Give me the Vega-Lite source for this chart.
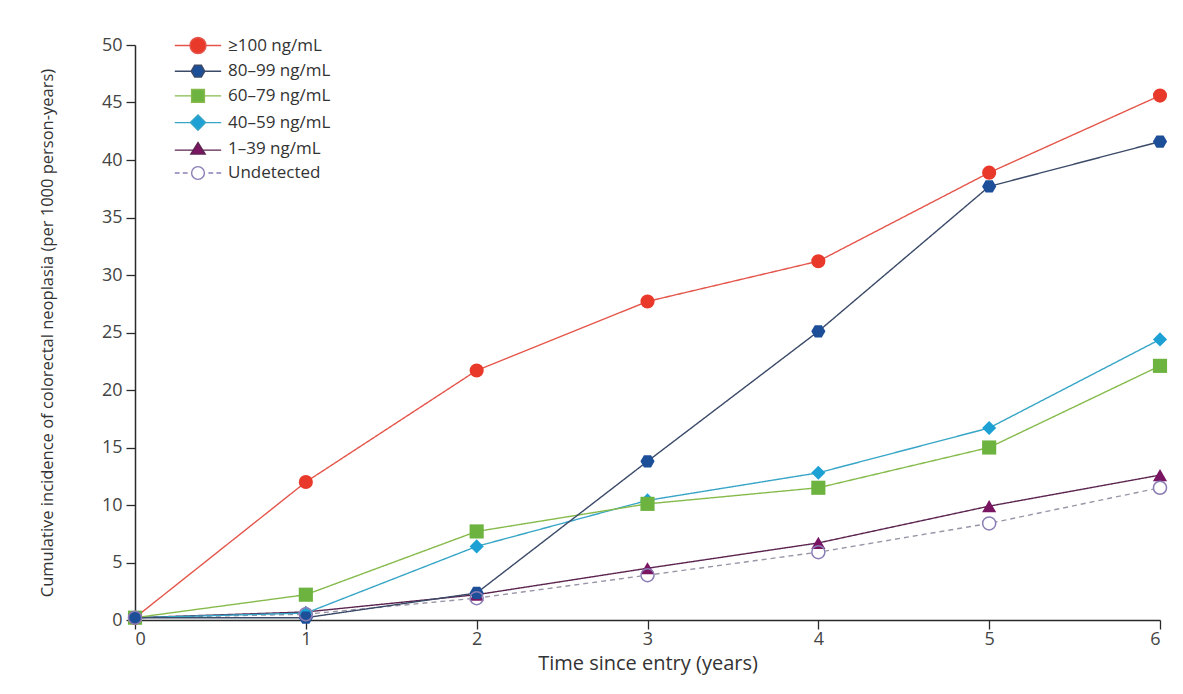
{
  "$schema": "https://vega.github.io/schema/vega-lite/v6.json",
  "width": 1025,
  "height": 575,
  "autosize": {"type": "none"},
  "padding": {"left": 135, "top": 45, "right": 23, "bottom": 74},
  "background": "#ffffff",
  "config": {
    "view": {"stroke": null},
    "font": "Open Sans",
    "axis": {
      "labelFont": "Open Sans",
      "titleFont": "Open Sans",
      "labelColor": "#444444",
      "titleColor": "#333333",
      "domainColor": "#2a2a2a",
      "tickColor": "#2a2a2a",
      "domainWidth": 1.5,
      "tickWidth": 1.3,
      "tickSize": 9,
      "grid": false,
      "labelFontSize": 18,
      "titleFontWeight": "normal"
    }
  },
  "data": {
    "values": [
      {"group": "Undetected", "year": 0, "value": 0.2},
      {"group": "Undetected", "year": 1, "value": 0.5},
      {"group": "Undetected", "year": 2, "value": 1.9},
      {"group": "Undetected", "year": 3, "value": 3.9},
      {"group": "Undetected", "year": 4, "value": 5.9},
      {"group": "Undetected", "year": 5, "value": 8.4},
      {"group": "Undetected", "year": 6, "value": 11.5},
      {"group": "1–39 ng/mL", "year": 0, "value": 0.2},
      {"group": "1–39 ng/mL", "year": 1, "value": 0.7},
      {"group": "1–39 ng/mL", "year": 2, "value": 2.2},
      {"group": "1–39 ng/mL", "year": 3, "value": 4.5},
      {"group": "1–39 ng/mL", "year": 4, "value": 6.7},
      {"group": "1–39 ng/mL", "year": 5, "value": 9.9},
      {"group": "1–39 ng/mL", "year": 6, "value": 12.6},
      {"group": "40–59 ng/mL", "year": 0, "value": 0.2},
      {"group": "40–59 ng/mL", "year": 1, "value": 0.6},
      {"group": "40–59 ng/mL", "year": 2, "value": 6.4},
      {"group": "40–59 ng/mL", "year": 3, "value": 10.4},
      {"group": "40–59 ng/mL", "year": 4, "value": 12.8},
      {"group": "40–59 ng/mL", "year": 5, "value": 16.7},
      {"group": "40–59 ng/mL", "year": 6, "value": 24.4},
      {"group": "60–79 ng/mL", "year": 0, "value": 0.2},
      {"group": "60–79 ng/mL", "year": 1, "value": 2.2},
      {"group": "60–79 ng/mL", "year": 2, "value": 7.7},
      {"group": "60–79 ng/mL", "year": 3, "value": 10.1},
      {"group": "60–79 ng/mL", "year": 4, "value": 11.5},
      {"group": "60–79 ng/mL", "year": 5, "value": 15.0},
      {"group": "60–79 ng/mL", "year": 6, "value": 22.1},
      {"group": "≥100 ng/mL", "year": 0, "value": 0.2},
      {"group": "≥100 ng/mL", "year": 1, "value": 12.0},
      {"group": "≥100 ng/mL", "year": 2, "value": 21.7},
      {"group": "≥100 ng/mL", "year": 3, "value": 27.7},
      {"group": "≥100 ng/mL", "year": 4, "value": 31.2},
      {"group": "≥100 ng/mL", "year": 5, "value": 38.9},
      {"group": "≥100 ng/mL", "year": 6, "value": 45.6},
      {"group": "80–99 ng/mL", "year": 0, "value": 0.2},
      {"group": "80–99 ng/mL", "year": 1, "value": 0.2},
      {"group": "80–99 ng/mL", "year": 2, "value": 2.35},
      {"group": "80–99 ng/mL", "year": 3, "value": 13.8},
      {"group": "80–99 ng/mL", "year": 4, "value": 25.1},
      {"group": "80–99 ng/mL", "year": 5, "value": 37.7},
      {"group": "80–99 ng/mL", "year": 6, "value": 41.6}
    ]
  },
  "encoding": {
    "x": {
      "field": "year",
      "type": "quantitative",
      "scale": {"domain": [0, 6], "nice": false},
      "axis": {
        "values": [0, 1, 2, 3, 4, 5, 6],
        "format": "d",
        "title": "Time since entry (years)",
        "titleFontSize": 20,
        "titlePadding": 5,
        "labelPadding": 1
      }
    },
    "y": {
      "field": "value",
      "type": "quantitative",
      "scale": {"domain": [0, 50], "nice": false},
      "axis": {
        "values": [0, 5, 10, 15, 20, 25, 30, 35, 40, 45, 50],
        "title": "Cumulative incidence of colorectal neoplasia (per 1000 person-years)",
        "titleFontSize": 16.5,
        "titlePadding": 46,
        "labelPadding": 4
      }
    }
  },
  "layer": [
    {
      "mark": {"type": "line"},
      "encoding": {
        "stroke": {
          "field": "group",
          "type": "nominal",
          "scale": {
            "range": ["#5b2550", "#37a5c6", "#86bb4c", "#3b4a68", "#9a96a8", "#e4564b"]
          },
          "legend": null
        },
        "strokeDash": {
          "field": "group",
          "type": "nominal",
          "scale": {
            "range": [[1, 0], [1, 0], [1, 0], [1, 0], [5, 4], [1, 0]]
          },
          "legend": null
        },
        "strokeWidth": {
          "field": "group",
          "type": "nominal",
          "scale": {
            "domain": ["≥100 ng/mL", "80–99 ng/mL", "60–79 ng/mL", "40–59 ng/mL", "1–39 ng/mL", "Undetected"],
            "range": [1.4, 1.4, 1.4, 1.4, 1.4, 1.4]
          },
          "legend": {
            "title": null,
            "orient": "none",
            "legendX": 54,
            "legendY": -8.5,
            "padding": 0,
            "symbolSize": 256,
            "labelOffset": 21,
            "rowPadding": 5.7,
            "labelFont": "Open Sans",
            "labelFontSize": 17,
            "labelColor": "#333333",
            "symbolType": {"expr": "['M-2.9,0L-1,0M1,0L2.9,0M-1,0A1,1,0,1,1,1,0A1,1,0,1,1,-1,0Z','M-2.9,0L-0.85,0M0.85,0L2.9,0M-0.85,0L-0.42,-0.74L0.42,-0.74L0.85,0L0.42,0.74L-0.42,0.74Z','M-2.9,0L-0.8,0M0.8,0L2.9,0M-0.8,-0.8L0.8,-0.8L0.8,0.8L-0.8,0.8Z','M-2.9,0L-0.95,0M0.95,0L2.9,0M-0.95,0L0,-0.95L0.95,0L0,0.95Z','M-2.9,0.1L-0.6,0.1M0.6,0.1L2.9,0.1M-0.9,0.6L0,-0.85L0.9,0.6Z','M-2.9,0L-2.3,0M-1.9,0L-1.3,0M1.3,0L1.9,0M2.3,0L2.9,0M-0.8,0A0.8,0.8,0,1,1,0.8,0A0.8,0.8,0,1,1,-0.8,0Z'][indexof(['≥100 ng/mL','80–99 ng/mL','60–79 ng/mL','40–59 ng/mL','1–39 ng/mL','Undetected'], datum.value)]"},
            "symbolFillColor": {"expr": "['#e8392a','#1d4f98','#6db33f','#1da1d4','#7a1562','#ffffff'][indexof(['≥100 ng/mL','80–99 ng/mL','60–79 ng/mL','40–59 ng/mL','1–39 ng/mL','Undetected'], datum.value)]"},
            "symbolStrokeColor": {"expr": "['#e4564b','#3b4a68','#86bb4c','#37a5c6','#5b2550','#8a7db5'][indexof(['≥100 ng/mL','80–99 ng/mL','60–79 ng/mL','40–59 ng/mL','1–39 ng/mL','Undetected'], datum.value)]"},
            "symbolStrokeWidth": 1.4,
            "symbolOpacity": 1
          }
        }
      }
    },
    {
      "mark": {"type": "point", "filled": true, "opacity": 1},
      "encoding": {
        "fill": {
          "field": "group",
          "type": "nominal",
          "scale": {
            "range": ["#7a1562", "#1da1d4", "#6db33f", "#1d4f98", "#ffffff", "#e8392a"]
          },
          "legend": null
        },
        "shape": {
          "field": "group",
          "type": "nominal",
          "scale": {
            "range": ["triangle-up", "diamond", "square", "M-1,0L-0.5,-0.866L0.5,-0.866L1,0L0.5,0.866L-0.5,0.866Z", "circle", "circle"]
          },
          "legend": null
        },
        "size": {
          "field": "group",
          "type": "nominal",
          "scale": {
            "range": [200, 200, 180, 200, 170, 270]
          },
          "legend": null
        }
      }
    },
    {
      "transform": [{"filter": "datum.group === 'Undetected'"}],
      "mark": {"type": "point", "filled": false, "shape": "circle", "size": 170, "stroke": "#8a7db5", "strokeWidth": 1.5, "opacity": 1},
      "encoding": {}
    }
  ]
}
